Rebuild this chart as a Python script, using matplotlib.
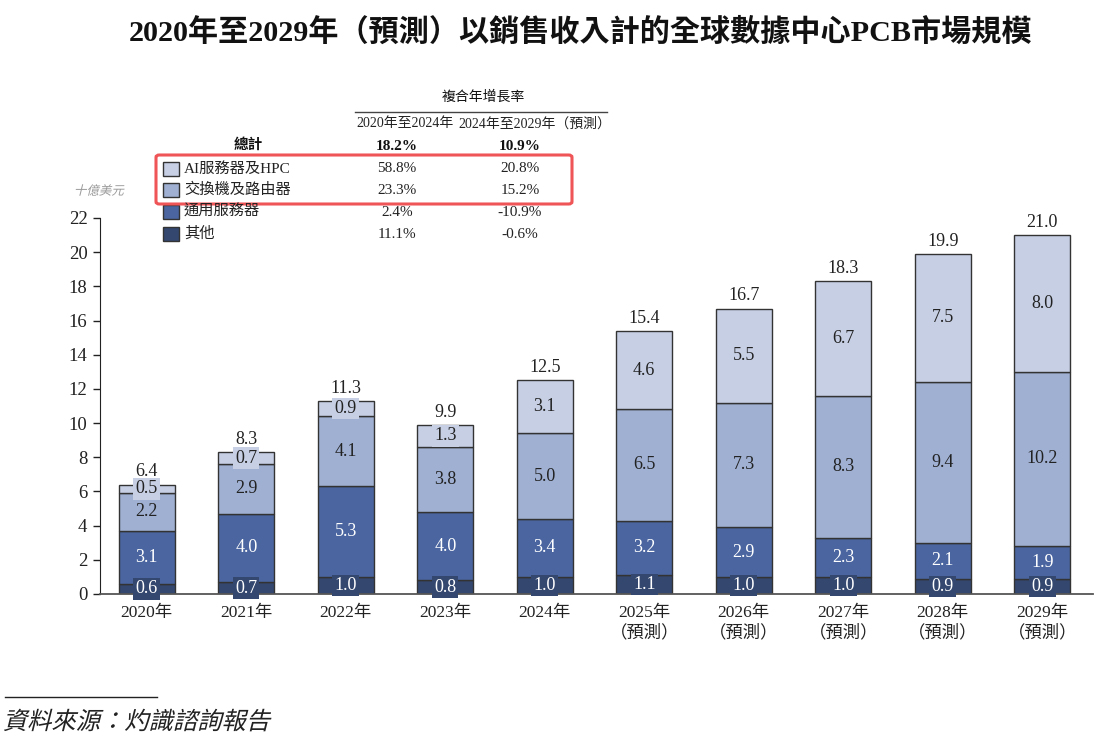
import matplotlib
matplotlib.use("Agg")
import matplotlib.pyplot as plt
from matplotlib.patches import Rectangle, FancyBboxPatch, PathPatch
from matplotlib.lines import Line2D
from matplotlib.textpath import TextPath
from matplotlib.font_manager import FontProperties
from matplotlib.transforms import Affine2D
import numpy as np

plt.rcParams['font.family'] = ['Liberation Serif', 'Noto Sans CJK TC', 'DejaVu Sans']

# data (billion USD)
years = ["2020年", "2021年", "2022年", "2023年", "2024年",
         "2025年\n（預測）", "2026年\n（預測）", "2027年\n（預測）",
         "2028年\n（預測）", "2029年\n（預測）"]
others = [0.6, 0.7, 1.0, 0.8, 1.0, 1.1, 1.0, 1.0, 0.9, 0.9]
general_server = [3.1, 4.0, 5.3, 4.0, 3.4, 3.2, 2.9, 2.3, 2.1, 1.9]
switch_router = [2.2, 2.9, 4.1, 3.8, 5.0, 6.5, 7.3, 8.3, 9.4, 10.2]
ai_hpc = [0.5, 0.7, 0.9, 1.3, 3.1, 4.6, 5.5, 6.7, 7.5, 8.0]
totals = [6.4, 8.3, 11.3, 9.9, 12.5, 15.4, 16.7, 18.3, 19.9, 21.0]

series_names = ["AI服務器及HPC", "交換機及路由器", "通用服務器", "其他"]
cagr_20_24 = ["58.8%", "23.3%", "2.4%", "11.1%"]
cagr_24_29 = ["20.8%", "15.2%", "-10.9%", "-0.6%"]
total_cagr = ["18.2%", "10.9%"]

colors = {"其他": "#34476f", "通用服務器": "#4a65a0",
          "交換機及路由器": "#9fb0d3", "AI服務器及HPC": "#c6cfe4"}
text_colors = {"其他": "white", "通用服務器": "white",
               "交換機及路由器": "#222222", "AI服務器及HPC": "#222222"}

W, H = 1117, 740
DPI = 100
fig = plt.figure(figsize=(W / DPI, H / DPI), dpi=DPI)


def fx(x):
    return x / W


def fy(y):
    return 1 - y / H


def slanted_text(x_px, y_px, s, size, color):
    # fake italic: CJK fonts here have no italic face, so skew the glyph outlines
    fp = FontProperties(family="Noto Sans CJK TC")
    tp = TextPath((0, 0), s, size=size, prop=fp)
    ext = tp.get_extents()
    tr = (Affine2D().translate(0, -(ext.y0 + ext.y1) / 2)
          .skew_deg(14, 0).scale(DPI / 72).translate(x_px, H - y_px))
    fig.add_artist(PathPatch(tp, transform=tr, facecolor=color, edgecolor="none", lw=0))


ax = fig.add_axes([fx(100), fy(594), fx(1093) - fx(100), fy(218) - fy(594)])

x = np.arange(len(years))
width = 0.56
stack = [("其他", others), ("通用服務器", general_server),
         ("交換機及路由器", switch_router), ("AI服務器及HPC", ai_hpc)]
bottom = np.zeros(len(years))
for name, vals in stack:
    vals = np.array(vals)
    ax.bar(x, vals, width, bottom=bottom, color=colors[name],
           edgecolor="#333333", linewidth=1.0, zorder=2)
    for xi, b, v in zip(x, bottom, vals):
        ax.text(xi, b + v / 2, f"{v:.1f}", ha="center", va="center",
                fontsize=13, color=text_colors[name], zorder=3,
                bbox=dict(boxstyle="square,pad=0.12", fc=colors[name], ec="none"))
    bottom += vals

for xi, t in zip(x, totals):
    ax.annotate(f"{t:.1f}", (xi, t), xytext=(0, 3), textcoords="offset points",
                ha="center", va="bottom", fontsize=13, color="#222222")

ax.set_xlim(-0.47, 9.51)
ax.set_ylim(0, 22)
ax.set_yticks(range(0, 23, 2))
ax.set_xticks(x)
ax.set_xticklabels(years, fontsize=12.5, color="#222222", linespacing=1.3)
ax.tick_params(axis="x", length=0, pad=8)
ax.tick_params(axis="y", length=5, width=1, labelsize=13.5, colors="#222222", pad=4)
for s in ["top", "right"]:
    ax.spines[s].set_visible(False)
ax.spines["left"].set_color("#222222")
ax.spines["bottom"].set_color("#555555")
ax.spines["bottom"].set_linewidth(1.3)

# title
fig.text(fx(580), fy(32), "2020年至2029年（預測）以銷售收入計的全球數據中心PCB市場規模",
         ha="center", va="center", fontsize=21.7, fontweight="bold", color="#111111")

# unit
slanted_text(75, 190, "十億美元", 9, "#999999")

# CAGR table / legend
col1, col2 = 397, 520
fig.text(fx(483), fy(97), "複合年增長率", ha="center", va="center", fontsize=10, color="#111111")
fig.add_artist(Line2D([fx(355), fx(607)], [fy(112), fy(112)], color="#444444", lw=1.0))
fig.text(fx(405), fy(124), "2020年至2024年", ha="center", va="center", fontsize=10, color="#222222")
fig.text(fx(535), fy(124), "2024年至2029年（預測）", ha="center", va="center", fontsize=10, color="#222222")
fig.text(fx(248), fy(145), "總計", ha="center", va="center", fontsize=10.5,
         fontweight="bold", color="#111111")
fig.text(fx(col1), fy(146), total_cagr[0], ha="center", va="center", fontsize=11,
         fontweight="bold", color="#111111")
fig.text(fx(col2), fy(146), total_cagr[1], ha="center", va="center", fontsize=11,
         fontweight="bold", color="#111111")

row_y = [169, 190, 212, 234]
for name, a, b, ry in zip(series_names, cagr_20_24, cagr_24_29, row_y):
    fig.add_artist(Rectangle((fx(163), fy(ry + 7)), fx(16), 14 / H,
                             facecolor=colors[name], edgecolor="#333333", lw=1.0))
    fig.text(fx(184), fy(ry), name, ha="left", va="center", fontsize=11, color="#222222")
    fig.text(fx(col1), fy(ry), a, ha="center", va="center", fontsize=11, color="#222222")
    fig.text(fx(col2), fy(ry), b, ha="center", va="center", fontsize=11, color="#222222")

fig.add_artist(FancyBboxPatch((fx(156), fy(204)), fx(572) - fx(156), fy(155) - fy(204),
                              boxstyle="round,pad=0,rounding_size=0.003",
                              facecolor="none", edgecolor="#ef5457", lw=2.2))

# source
fig.add_artist(Line2D([fx(5), fx(157)], [fy(697), fy(697)], color="#222222", lw=1.0))
slanted_text(5, 720, "資料來源：灼識諮詢報告", 17.5, "#222222")

fig.savefig("out.png", dpi=DPI)
